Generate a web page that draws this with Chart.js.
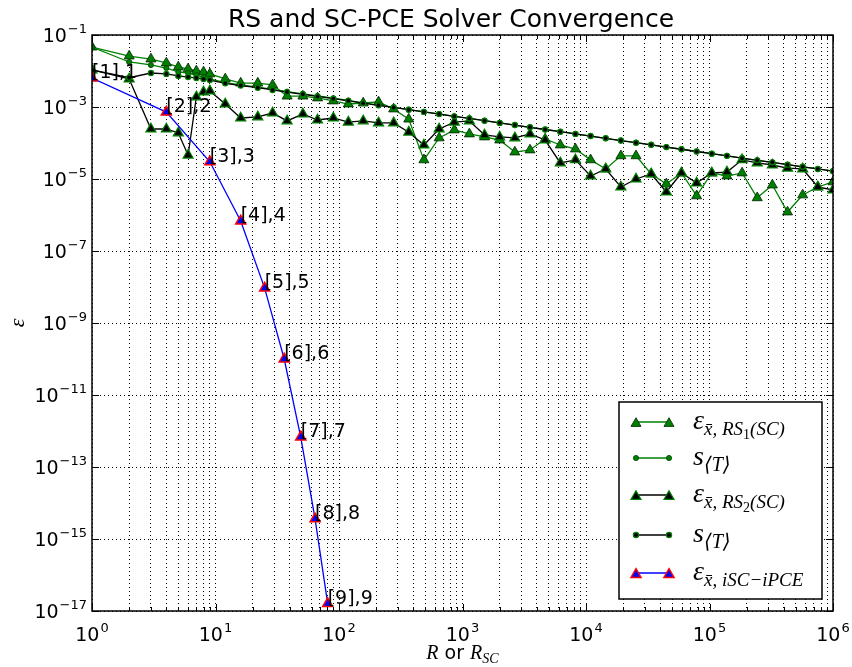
<!DOCTYPE html>
<html>
<head>
<meta charset="utf-8">
<script src="https://cdn.jsdelivr.net/npm/chart.js@4.4.1/dist/chart.umd.min.js"></script>
<style>
    html, body { margin: 0; padding: 0; background: #fff; }
    #wrap { width: 852px; height: 667px; }
</style>
</head>
<body>
<div id="wrap"><canvas id="graficoConvergenza" width="852" height="667"></canvas></div>
<script>
// campioni R per RS1/RS2 (prima interi, poi passo logaritmico)
const rValori = [1, 2, 3, 4, 5, 6, 7, 8, 9,
    12, 16, 22, 29, 38, 51, 67, 90, 119, 157,
    209, 277, 367, 487, 647, 858, 1137, 1508, 2001, 2654,
    3520, 4668, 6193, 8214, 10891, 14447, 19164, 25417, 33718, 44729,
    59320, 78690, 104350, 138400, 183600, 243500, 322900, 428300, 568200, 753700,
    1000000];

const epsRS1 = [4.6e-2, 2.6e-2, 2.15e-2, 1.67e-2, 1.29e-2, 1.14e-2, 1.0e-2, 9.4e-3, 8.3e-3,
    6.0e-3, 4.6e-3, 4.6e-3, 4.1e-3, 2.0e-3, 2.0e-3, 1.78e-3, 1.47e-3, 1.21e-3, 1.29e-3,
    1.38e-3, 8.8e-4, 4.6e-4, 3.4e-5, 1.38e-4, 2.3e-4, 1.78e-4, 1.47e-4, 1.21e-4, 5.6e-5,
    6.4e-5, 1.29e-4, 8.8e-5, 6.8e-5, 3.4e-5, 1.9e-5, 4.4e-5, 4.4e-5, 1.38e-5, 7.3e-6,
    1.47e-5, 3.4e-6, 1.47e-5, 1.21e-5, 1.47e-5, 3.0e-6, 6.8e-6, 1.21e-6, 3.6e-6, 6.0e-6,
    8.3e-6];

const sRS1 = [4.6e-2, 1.78e-2, 1.47e-2, 1.21e-2, 9.4e-3, 8.8e-3, 7.7e-3, 6.8e-3, 6.0e-3,
    4.75e-3, 4.1e-3, 3.55e-3, 3.1e-3, 2.68e-3, 2.32e-3, 2.02e-3, 1.75e-3, 1.52e-3, 1.31e-3,
    1.13e-3, 9.8e-4, 8.5e-4, 7.35e-4, 6.4e-4, 5.5e-4, 4.8e-4, 4.17e-4, 3.62e-4, 3.15e-4,
    2.73e-4, 2.37e-4, 2.06e-4, 1.79e-4, 1.56e-4, 1.35e-4, 1.17e-4, 1.02e-4, 8.9e-5, 7.7e-5,
    6.7e-5, 5.8e-5, 5.05e-5, 4.4e-5, 3.8e-5, 3.3e-5, 2.9e-5, 2.5e-5, 2.18e-5, 1.9e-5,
    1.65e-5];

const epsRS2 = [1.07e-2, 6.0e-3, 2.45e-4, 2.45e-4, 1.9e-4, 4.6e-5, 1.9e-3, 2.6e-3, 2.8e-3,
    1.21e-3, 4.95e-4, 5.3e-4, 6.8e-4, 4.1e-4, 6.4e-4, 4.35e-4, 4.95e-4, 3.8e-4, 4.1e-4,
    3.6e-4, 3.6e-4, 2.0e-4, 8.8e-5, 2.45e-4, 3.8e-4, 4.1e-4, 1.67e-4, 1.47e-4, 1.38e-4,
    1.78e-4, 1.21e-4, 2.8e-5, 3.4e-5, 1.21e-5, 1.9e-5, 6.0e-6, 1.0e-5, 1.38e-5, 4.35e-6,
    1.47e-5, 7.7e-6, 1.47e-5, 1.56e-5, 3.4e-5, 2.8e-5, 2.45e-5, 2.0e-5, 1.9e-5, 6.0e-6,
    4.95e-6];

const sRS2 = [1.07e-2, 6.5e-3, 8.8e-3, 8.3e-3, 7.3e-3, 6.8e-3, 6.4e-3, 6.0e-3, 5.6e-3,
    4.55e-3, 3.95e-3, 3.43e-3, 2.98e-3, 2.59e-3, 2.25e-3, 1.96e-3, 1.70e-3, 1.48e-3, 1.28e-3,
    1.11e-3, 9.7e-4, 8.4e-4, 7.3e-4, 6.35e-4, 5.5e-4, 4.8e-4, 4.17e-4, 3.62e-4, 3.15e-4,
    2.73e-4, 2.37e-4, 2.06e-4, 1.79e-4, 1.56e-4, 1.35e-4, 1.17e-4, 1.02e-4, 8.9e-5, 7.7e-5,
    6.7e-5, 5.8e-5, 5.05e-5, 4.4e-5, 3.8e-5, 3.3e-5, 2.9e-5, 2.5e-5, 2.18e-5, 1.9e-5,
    1.65e-5];

// SC-PCE: livello n -> R_SC = n^2
const rSC = [1, 4, 9, 16, 25, 36, 49, 64, 81];
const epsSC = [6.4e-3, 7.2e-4, 3.0e-5, 6.8e-7, 9.3e-9, 1.0e-10, 6.8e-13, 3.6e-15, 1.6e-17];
const etichetteSC = ['[1],1', '[2],2', '[3],3', '[4],4', '[5],5', '[6],6', '[7],7', '[8],8', '[9],9'];

const xEsponenti = [0, 1, 2, 3, 4, 5, 6];
const yEsponenti = [-1, -3, -5, -7, -9, -11, -13, -15, -17];

const SANS = '"DejaVu Sans", sans-serif';
const MATH = '"Liberation Serif", "DejaVu Serif", serif';
const VERDE = '#008000';

const punti = (xs, ys) => xs.map((x, i) => ({ x: x, y: ys[i] }));

// testo con pedici: ogni pezzo ha font e scostamento verticale
function scriviPezzi(ctx, x, y, pezzi, misura) {
    let w = 0;
    pezzi.forEach(p => {
        ctx.font = p.f;
        if (!misura) ctx.fillText(p.t, x + w, y + (p.dy || 0));
        w += ctx.measureText(p.t).width;
    });
    return w;
}

function potenza(ctx, esp, x, y, allinea) {
    const base = '10', sup = String(esp).replace('-', '\u2212');
    ctx.font = '19px ' + SANS; const wb = ctx.measureText(base).width;
    ctx.font = '13px ' + SANS; const ws = ctx.measureText(sup).width;
    const x0 = allinea === 'right' ? x - wb - ws - 1 : x - (wb + ws + 1) / 2;
    ctx.font = '19px ' + SANS; ctx.fillText(base, x0, y);
    ctx.font = '13px ' + SANS; ctx.fillText(sup, x0 + wb + 1, y - 9);
}

function marcatore(ctx, stile, x, y, r, fill, edge, ew) {
    ctx.beginPath();
    if (stile === 'triangle') {
        for (let k = 0; k < 3; k++) {
            const a = k * 2 * Math.PI / 3;
            const px = x + Math.sin(a) * r, py = y - Math.cos(a) * r;
            k === 0 ? ctx.moveTo(px, py) : ctx.lineTo(px, py);
        }
        ctx.closePath();
    } else {
        ctx.arc(x, y, r, 0, 2 * Math.PI);
    }
    ctx.fillStyle = fill; ctx.fill();
    ctx.lineWidth = ew; ctx.strokeStyle = edge; ctx.stroke();
}

const eps = { t: '\u03b5', f: 'italic 28px ' + MATH };
const sub = 'italic 19px ' + MATH;
const legendaVoci = [
    { y: 422, col: VERDE, stile: 'triangle', r: 5.8, fill: VERDE, edge: '#002200', ew: 0.8,
      pezzi: [eps, { t: 'x\u0304, RS', f: sub, dy: 6 }, { t: '1', f: '14px ' + MATH, dy: 10 }, { t: '(SC)', f: sub, dy: 6 }] },
    { y: 458, col: VERDE, stile: 'circle', r: 2.6, fill: VERDE, edge: '#004000', ew: 0.8,
      pezzi: [{ t: 's', f: 'italic 28px ' + MATH }, { t: '\u27e8T\u27e9', f: 'italic 20px ' + MATH, dy: 6 }] },
    { y: 495, col: '#000', stile: 'triangle', r: 5.8, fill: '#000', edge: VERDE, ew: 1.2,
      pezzi: [eps, { t: 'x\u0304, RS', f: sub, dy: 6 }, { t: '2', f: '14px ' + MATH, dy: 10 }, { t: '(SC)', f: sub, dy: 6 }] },
    { y: 535, col: '#000', stile: 'circle', r: 2.6, fill: '#000', edge: VERDE, ew: 1.2,
      pezzi: [{ t: 's', f: 'italic 28px ' + MATH }, { t: '\u27e8T\u27e9', f: 'italic 20px ' + MATH, dy: 6 }] },
    { y: 573, col: '#0000ff', stile: 'triangle', r: 5.8, fill: '#0000ff', edge: '#ff0000', ew: 1.5,
      pezzi: [eps, { t: 'x\u0304, iSC\u2212iPCE', f: sub, dy: 6 }] }
];

// cornice, tacche interne, etichette, titolo, annotazioni e legenda
const decorazioni = {
    id: 'decorazioni',
    afterDraw(chart) {
        const { ctx, chartArea: a, scales: { x, y } } = chart;
        ctx.save();
        ctx.fillStyle = '#000';
        ctx.strokeStyle = '#000';

        // tacche verso l'interno su tutti e quattro i lati
        ctx.lineWidth = 1;
        x.ticks.forEach(t => {
            const px = Math.round(x.getPixelForValue(t.value)) + 0.5;
            const len = Number.isInteger(Math.log10(t.value)) ? 7 : 4;
            ctx.beginPath();
            ctx.moveTo(px, a.bottom); ctx.lineTo(px, a.bottom - len);
            ctx.moveTo(px, a.top); ctx.lineTo(px, a.top + len);
            ctx.stroke();
        });
        y.ticks.forEach(t => {
            const py = Math.round(y.getPixelForValue(t.value)) + 0.5;
            ctx.beginPath();
            ctx.moveTo(a.left, py); ctx.lineTo(a.left + 7, py);
            ctx.moveTo(a.right, py); ctx.lineTo(a.right - 7, py);
            ctx.stroke();
        });
        ctx.lineWidth = 1.5;
        ctx.strokeRect(a.left, a.top, a.right - a.left, a.bottom - a.top);

        // etichette degli assi
        ctx.textBaseline = 'alphabetic'; ctx.textAlign = 'left';
        xEsponenti.forEach(e => potenza(ctx, e, x.getPixelForValue(Math.pow(10, e)), a.bottom + 30, 'center'));
        yEsponenti.forEach(e => potenza(ctx, e, a.left - 5, y.getPixelForValue(Math.pow(10, e)) + 7, 'right'));

        ctx.font = '25px ' + SANS; ctx.textAlign = 'center';
        ctx.fillText('RS and SC-PCE Solver Convergence', 451, 27);
        ctx.textAlign = 'left';

        const xLab = [{ t: 'R', f: 'italic 20px ' + MATH }, { t: ' or ', f: '19px ' + SANS },
            { t: 'R', f: 'italic 20px ' + MATH }, { t: 'SC', f: 'italic 14px ' + MATH, dy: 4 }];
        const wx = scriviPezzi(ctx, 0, 0, xLab, true);
        scriviPezzi(ctx, (a.left + a.right) / 2 - wx / 2, 659, xLab);

        ctx.save();
        ctx.translate(24, (a.top + a.bottom) / 2);
        ctx.rotate(-Math.PI / 2);
        ctx.font = 'italic 22px ' + MATH; ctx.textAlign = 'center';
        ctx.fillText('\u03b5', 0, 0);
        ctx.restore();

        // etichette dei punti SC-PCE
        ctx.font = '19px ' + SANS;
        rSC.forEach((r, i) => {
            ctx.fillText(etichetteSC[i], x.getPixelForValue(r), y.getPixelForValue(epsSC[i]));
        });

        // legenda
        ctx.fillStyle = '#fff';
        ctx.fillRect(619, 402, 203, 197);
        ctx.lineWidth = 1.5; ctx.strokeStyle = '#000';
        ctx.strokeRect(619, 402, 203, 197);
        legendaVoci.forEach(v => {
            ctx.beginPath();
            ctx.moveTo(636, v.y); ctx.lineTo(669, v.y);
            ctx.lineWidth = 1.3; ctx.strokeStyle = v.col; ctx.stroke();
            marcatore(ctx, v.stile, 636, v.y + (v.stile === 'triangle' ? 1.5 : 0), v.r, v.fill, v.edge, v.ew);
            marcatore(ctx, v.stile, 669, v.y + (v.stile === 'triangle' ? 1.5 : 0), v.r, v.fill, v.edge, v.ew);
            ctx.fillStyle = '#000';
            scriviPezzi(ctx, 693, v.y + 7, v.pezzi);
        });
        ctx.restore();
    }
};

function serie(dati, col, stile, r, fill, edge, ew, ordine) {
    return {
        data: dati, borderColor: col, borderWidth: 1.3, tension: 0, fill: false,
        pointStyle: stile, pointRadius: r, pointHoverRadius: r,
        pointBackgroundColor: fill, pointBorderColor: edge, pointBorderWidth: ew,
        order: ordine
    };
}

new Chart(document.getElementById('graficoConvergenza').getContext('2d'), {
    type: 'line',
    data: {
        datasets: [
            serie(punti(rValori, epsRS1), VERDE, 'triangle', 5.8, VERDE, '#002200', 0.8, 5),
            serie(punti(rValori, sRS1), VERDE, 'circle', 2.6, VERDE, '#004000', 0.8, 4),
            serie(punti(rValori, epsRS2), '#000', 'triangle', 5.8, '#000', VERDE, 1.2, 3),
            serie(punti(rValori, sRS2), '#000', 'circle', 2.6, '#000', VERDE, 1.2, 2),
            serie(punti(rSC, epsSC), '#0000ff', 'triangle', 5.8, '#0000ff', '#ff0000', 1.5, 1)
        ]
    },
    options: {
        responsive: false, animation: false, events: [],
        layout: { padding: { top: 35, right: 19, left: 0, bottom: 0 } },
        plugins: { legend: { display: false }, title: { display: false }, tooltip: { enabled: false } },
        scales: {
            x: {
                type: 'logarithmic', min: 1, max: 1e6,
                afterBuildTicks: s => {
                    const t = [];
                    for (let d = 0; d < 6; d++) for (let m = 1; m <= 9; m++) t.push({ value: m * Math.pow(10, d) });
                    t.push({ value: 1e6 });
                    s.ticks = t;
                },
                afterFit: s => { s.height = 56; },
                ticks: { display: false },
                grid: { color: '#000', lineWidth: 1, drawTicks: false },
                border: { display: false, dash: [1, 3] }
            },
            y: {
                type: 'logarithmic', min: 1e-17, max: 1e-1,
                afterBuildTicks: s => { s.ticks = yEsponenti.map(e => ({ value: Math.pow(10, e) })); },
                afterFit: s => { s.width = 92; },
                ticks: { display: false },
                grid: { color: '#000', lineWidth: 1, drawTicks: false },
                border: { display: false, dash: [1, 3] }
            }
        }
    },
    plugins: [decorazioni]
});
</script>
</body>
</html>
